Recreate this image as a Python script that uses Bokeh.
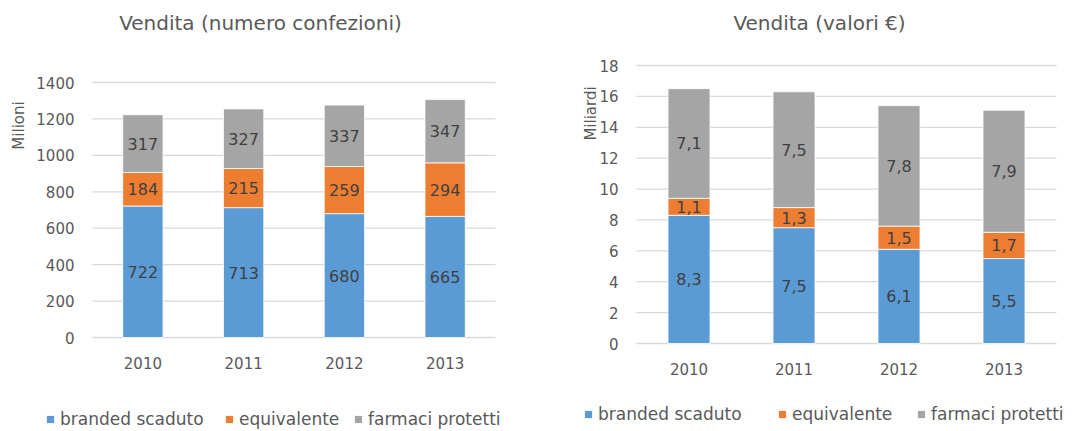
import math
from bokeh.plotting import figure
from bokeh.models import ColumnDataSource, Range1d, Legend, LegendItem
from bokeh.core.properties import value
from bokeh.layouts import row
from bokeh.embed import file_html
from bokeh.resources import INLINE

years = ["2010", "2011", "2012", "2013"]
series = ["branded scaduto", "equivalente", "farmaci protetti"]
colors = ["#5B9BD5", "#ED7D31", "#A5A5A5"]

# Vendita (numero confezioni), milioni
pack_branded = [722, 713, 680, 665]
pack_equiv = [184, 215, 259, 294]
pack_protetti = [317, 327, 337, 347]
pack_ticks = [0, 200, 400, 600, 800, 1000, 1200, 1400]

# Vendita (valori €), miliardi
val_branded = [8.3, 7.5, 6.1, 5.5]
val_equiv = [1.1, 1.3, 1.5, 1.7]
val_protetti = [7.1, 7.5, 7.8, 7.9]
val_ticks = [0, 2, 4, 6, 8, 10, 12, 14, 16, 18]

FONT = "DejaVu Sans"
TXT = "#595959"
W, H = 546, 431


def fmt(v, dec):
    return (f"{v:.{dec}f}").replace(".", ",")


def make_chart(title, ylabel, b, e, f, ticks, dec, geo):
    pl, pr, pt, pb = geo["area"]          # plot area in pixels
    n = len(years)
    ymax = ticks[-1]

    def dx(px):
        return -0.5 + (px - pl) * n / (pr - pl)

    def dy(py):
        return (pb - py) * ymax / (pb - pt)

    p = figure(width=W, height=H, x_range=Range1d(dx(0), dx(W)), y_range=Range1d(dy(H), dy(0)),
               x_axis_type=None, y_axis_type=None, title_location=None,
               output_backend="svg", toolbar_location=None,
               min_border_left=0, min_border_right=0, min_border_top=0, min_border_bottom=0)
    p.outline_line_color = None
    p.background_fill_color = "white"
    p.border_fill_color = "white"

    xs = list(range(n))
    # horizontal grid lines at the axis ticks
    gsrc = ColumnDataSource(dict(x0=[-0.5] * len(ticks), x1=[n - 0.5] * len(ticks),
                                 y=ticks))
    p.segment(x0="x0", x1="x1", y0="y", y1="y", source=gsrc, line_color="#D9D9D9",
              line_width=1.3, level="underlay")

    src = ColumnDataSource(dict(x=xs, b=b, e=e, f=f))
    rs = p.vbar_stack(["b", "e", "f"], x="x", width=0.4, color=colors, source=src,
                      line_color="white", line_width=0.8)

    # data labels
    lx, ly, lt = [], [], []
    for i in xs:
        base = 0
        for v in (b[i], e[i], f[i]):
            lx.append(i)
            ly.append(base + v / 2)
            lt.append(fmt(v, dec))
            base += v
    p.text(x=lx, y=ly, text=lt, text_align="center", text_baseline="middle",
           text_font=value(FONT), text_font_size=value("16px"), text_color="#404040")

    # y tick labels
    p.text(x=[dx(geo["ylab_right"])] * len(ticks), y=ticks, text=[str(t) for t in ticks],
           text_align="right", text_baseline="middle", text_font=value(FONT),
           text_font_size=value("15px"), text_color=TXT)
    # x tick labels
    p.text(x=xs, y=[dy(geo["xlab_y"])] * n, text=years, text_align="center",
           text_baseline="middle", text_font=value(FONT), text_font_size=value("15px"),
           text_color=TXT)
    # chart title
    p.text(x=[dx(geo["title"][0])], y=[dy(geo["title"][1])], text=[title],
           text_align="center", text_baseline="middle", text_font=value(FONT),
           text_font_size=value("20px"), text_color=TXT)
    # y axis title
    p.text(x=[dx(geo["ytitle"][0])], y=[dy(geo["ytitle"][1])], text=[ylabel],
           angle=math.pi / 2, text_align="center", text_baseline="middle",
           text_font=value(FONT), text_font_size=value("15px"), text_color=TXT)

    # legend, one entry per series, below the chart
    for r, name, lxp in zip(rs, series, geo["leg"]):
        leg = Legend(items=[LegendItem(label=name, renderers=[r])],
                     location=(lxp, H - geo["legy"] - 9), orientation="horizontal",
                     padding=0, margin=0, border_line_color=None, background_fill_alpha=0,
                     glyph_width=10, glyph_height=10, label_standoff=5, label_height=18,
                     label_text_font=FONT, label_text_font_size="17px",
                     label_text_color=TXT, spacing=0)
        p.add_layout(leg)
    return p


left = make_chart("Vendita (numero confezioni)", "Milioni", pack_branded, pack_equiv,
                  pack_protetti, pack_ticks, 0,
                  dict(area=(92, 495, 82, 337), ylab_right=74, xlab_y=362, title=(260, 22),
                       ytitle=(18, 125), leg=(45, 224, 353), legy=420))
right = make_chart("Vendita (valori €)", "Miliardi", val_branded, val_equiv, val_protetti,
                   val_ticks, 1,
                   dict(area=(90, 510, 65, 343), ylab_right=72, xlab_y=368, title=(273, 22),
                        ytitle=(44, 113), leg=(37, 231, 370), legy=415))

lay = row(left, right)
open("out.html", "w").write(file_html(lay, INLINE))
